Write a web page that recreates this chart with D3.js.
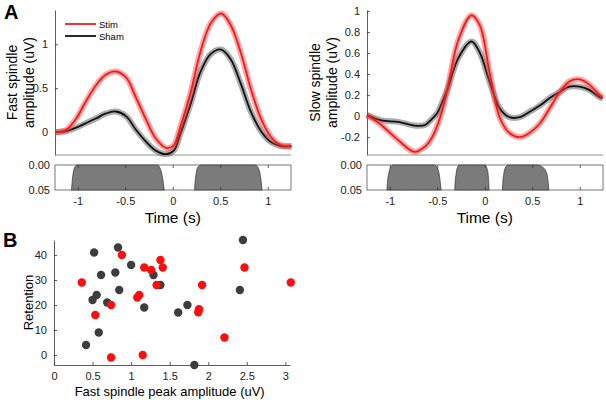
<!DOCTYPE html>
<html>
<head>
<meta charset="utf-8">
<script src="https://cdn.jsdelivr.net/npm/d3@7"></script>
<style>
  body { margin: 0; background: #fff; }
  svg { font-family: "Liberation Sans", Arial, Helvetica, sans-serif; }
  .axis path, .axis line { stroke: #333; stroke-width: 0.8; }
  .axis text { fill: #222; font-size: 11px; }
</style>
</head>
<body>
<div id="chart"></div>
<script>
// ---- panel A, fast spindles
const fastTime = [-1.24, -1.13, -1.02, -0.92, -0.81, -0.71, -0.6, -0.49, -0.39, -0.28, -0.18, -0.07, 0.01,
    0.08, 0.19, 0.29, 0.4, 0.51, 0.61, 0.72, 0.82, 0.93, 1.03, 1.14, 1.25]
const fastStim = [0.0, 0.02, 0.15, 0.34, 0.53, 0.65, 0.69, 0.62, 0.40, 0.14, -0.07, -0.18, -0.15,
    0.06, 0.46, 0.91, 1.24, 1.35, 1.22, 0.89, 0.50, 0.15, -0.05, -0.15, -0.16]
const fastSham = [0.0, 0.01, 0.05, 0.10, 0.155, 0.21, 0.235, 0.18, 0.03, -0.11, -0.21, -0.25, -0.21,
    -0.02, 0.33, 0.68, 0.89, 0.94, 0.83, 0.54, 0.24, 0.01, -0.11, -0.16, -0.16]
// significant clusters (p-value vs time)
const fastClusters = [
    { t: [-1.066, -1.06, -1.05, -1.035, -1.01, -0.5, -0.16, -0.135, -0.115, -0.1, -0.09],
      p: [0.05, 0.035, 0.018, 0.006, 0.0, 0.0, 0.0, 0.006, 0.018, 0.035, 0.05] },
    { t: [0.23, 0.235, 0.245, 0.26, 0.295, 0.6, 0.87, 0.9, 0.92, 0.932, 0.94],
      p: [0.05, 0.035, 0.018, 0.006, 0.0, 0.0, 0.0, 0.006, 0.018, 0.035, 0.05] }
]

// ---- panel A, slow spindles
const slowTime = [-1.24, -1.09, -0.91, -0.74, -0.63, -0.56, -0.5, -0.44, -0.39, -0.28, -0.14, -0.05, 0.05,
    0.16, 0.26, 0.37, 0.47, 0.58, 0.68, 0.79, 0.89, 1.0, 1.1, 1.21, 1.24]
const slowStim = [0.01, -0.085, -0.23, -0.34, -0.29, -0.21, -0.09, 0.08, 0.27, 0.72, 0.96, 0.86, 0.42,
    -0.02, -0.16, -0.20, -0.16, -0.07, 0.07, 0.23, 0.33, 0.35, 0.30, 0.20, 0.17]
const slowSham = [0.01, -0.04, -0.055, -0.09, -0.085, -0.03, 0.03, 0.15, 0.26, 0.55, 0.71, 0.60, 0.33,
    0.07, -0.01, -0.01, 0.04, 0.10, 0.17, 0.23, 0.28, 0.28, 0.25, 0.18, 0.17]
const slowClusters = [
    { t: [-1.03, -1.025, -1.012, -0.995, -0.965, -0.75, -0.53, -0.5, -0.48, -0.468, -0.46],
      p: [0.05, 0.035, 0.018, 0.006, 0.0, 0.0, 0.0, 0.006, 0.018, 0.035, 0.05] },
    { t: [-0.316, -0.312, -0.302, -0.29, -0.27, -0.13, 0.0, 0.022, 0.035, 0.042, 0.045],
      p: [0.05, 0.035, 0.018, 0.006, 0.0, 0.0, 0.0, 0.006, 0.018, 0.035, 0.05] },
    { t: [0.186, 0.19, 0.2, 0.215, 0.245, 0.45, 0.55, 0.62, 0.655, 0.668, 0.675],
      p: [0.05, 0.035, 0.018, 0.006, 0.0, 0.0, 0.0, 0.006, 0.018, 0.035, 0.05] }
]

// ---- panel B, retention vs fast spindle peak amplitude
const shamAmp = [0.52, 0.83, 1.0, 0.61, 0.795, 1.29, 1.38, 0.846, 0.553, 0.50, 0.69, 1.17, 0.58, 0.415,
    2.45, 2.41, 1.73, 1.61, 1.82]
const shamRet = [41, 43, 36, 32, 33, 32, 28, 26, 24, 22, 21, 19, 9, 4,
    46, 26, 20, 17, -4]
const stimAmp = [0.88, 0.36, 1.17, 1.26, 1.38, 1.41, 1.33, 1.105, 1.08, 0.74, 0.535, 0.74, 1.15,
    1.92, 2.47, 3.07, 1.88, 1.87, 2.21]
const stimRet = [40, 29, 35, 34, 38, 35, 28, 24, 23, 20, 16, -1, 0,
    28, 35, 29, 18.3, 17.1, 7]

const RED = "#f21b1b"
const RED_BAND = "rgba(255,60,60,0.45)"
const BLACK = "#111"
const BLACK_BAND = "rgba(90,90,90,0.5)"

const svg = d3.select("#chart").append("svg")
    .attr("width", 606)
    .attr("height", 400)

const timeTicks = [-1, -0.5, 0, 0.5, 1]
const fmt = d => String(d)

function curvePanel(opts) {
    const x = d3.scaleLinear().domain([-1.24, 1.245]).range([opts.left, opts.right])
    const y = d3.scaleLinear().domain(opts.yDomain).range([155, 10])

    // y axis, ticks pointing inward
    svg.append("g").attr("class", "axis")
        .attr("transform", `translate(${opts.left},0)`)
        .call(d3.axisLeft(y).tickValues(opts.yTicks).tickFormat(fmt).tickSize(-3).tickSizeOuter(0).tickPadding(7))
    // bottom line
    svg.append("line")
        .attr("x1", opts.left).attr("x2", opts.right)
        .attr("y1", 155).attr("y2", 155)
        .attr("stroke", "#777").attr("stroke-width", 0.8)

    const line = (vals) => d3.line()
        .x((d, i) => x(opts.time[i]))
        .y(d => y(d))
        .curve(d3.curveCatmullRom.alpha(0.5))(vals)

    const series = [
        { vals: opts.sham, color: BLACK, band: BLACK_BAND },
        { vals: opts.stim, color: RED, band: RED_BAND }
    ]
    series.forEach(s => {
        svg.append("path").attr("d", line(s.vals))
            .attr("fill", "none").attr("stroke", s.band).attr("stroke-width", 6)
            .attr("stroke-linejoin", "round")
        svg.append("path").attr("d", line(s.vals))
            .attr("fill", "none").attr("stroke", s.color).attr("stroke-width", 1.8)
    })

    // significance strip
    const py = d3.scaleLinear().domain([0, 0.05]).range([165, 190])
    svg.append("rect")
        .attr("x", opts.left).attr("y", 165)
        .attr("width", opts.right - opts.left).attr("height", 25)
        .attr("fill", "none").attr("stroke", "#555").attr("stroke-width", 0.8)

    const area = d3.area()
        .x(d => x(d[0]))
        .y0(py(0.05))
        .y1(d => py(d[1]))
        .curve(d3.curveMonotoneX)
    opts.clusters.forEach(c => {
        const pts = c.t.map((t, i) => [t, c.p[i]])
        svg.append("path").attr("d", area(pts))
            .attr("fill", "#7b7b7b").attr("stroke", "#333").attr("stroke-width", 0.7)
    })

    svg.append("g").attr("class", "axis")
        .attr("transform", "translate(0,190)")
        .call(d3.axisBottom(x).tickValues(timeTicks).tickFormat(fmt).tickSize(-3).tickSizeOuter(0).tickPadding(7))
        .call(g => g.select(".domain").remove())
    svg.append("g").attr("class", "axis")
        .attr("transform", "translate(0,165)")
        .call(d3.axisTop(x).tickValues(timeTicks).tickFormat("").tickSize(-3).tickSizeOuter(0))
        .call(g => g.select(".domain").remove())
    svg.append("g").attr("class", "axis")
        .attr("transform", `translate(${opts.left},0)`)
        .call(d3.axisLeft(py).tickValues([0, 0.05]).tickFormat(d3.format(".2f")).tickSize(0).tickPadding(5))
        .call(g => g.select(".domain").remove())

    svg.append("text")
        .attr("x", (x(0))).attr("y", 223)
        .attr("text-anchor", "middle")
        .style("font-size", "15.5px")
        .text("Time (s)")

    const label = svg.append("text")
        .attr("transform", `translate(${opts.labelX},${(10 + 155) / 2}) rotate(-90)`)
        .attr("text-anchor", "middle")
        .style("font-size", "14px")
    label.append("tspan").attr("x", 0).attr("dy", 0).text(opts.label[0])
    label.append("tspan").attr("x", 0).attr("dy", 17).text(opts.label[1])
}

curvePanel({
    left: 55, right: 291,
    yDomain: [-0.26, 1.39], yTicks: [0, 0.5, 1],
    time: fastTime, stim: fastStim, sham: fastSham,
    clusters: fastClusters,
    labelX: 17, label: ["Fast spindle", "amplitude (uV)"]
})

curvePanel({
    left: 367, right: 603,
    yDomain: [-0.37, 1.01], yTicks: [-0.2, 0, 0.2, 0.4, 0.6, 0.8, 1],
    time: slowTime, stim: slowStim, sham: slowSham,
    clusters: slowClusters,
    labelX: 320, label: ["Slow spindle", "amplitude (uV)"]
})

// legend
const legend = [["Stim", RED, 24], ["Sham", BLACK, 36]]
legend.forEach(([name, color, ly]) => {
    svg.append("line")
        .attr("x1", 65).attr("x2", 96).attr("y1", ly).attr("y2", ly)
        .attr("stroke", color).attr("stroke-width", 1.8)
    svg.append("text")
        .attr("x", 99).attr("y", ly + 3.5)
        .style("font-size", "9.5px")
        .text(name)
})

// ---- panel B
const sx = d3.scaleLinear().domain([0, 3.06]).range([54, 290])
const sy = d3.scaleLinear().domain([-4, 46]).range([365, 240])

svg.append("g").attr("class", "axis")
    .attr("transform", "translate(0,365)")
    .call(d3.axisBottom(sx).tickValues([0, 0.5, 1, 1.5, 2, 2.5, 3]).tickFormat(fmt).tickSize(-3).tickSizeOuter(0).tickPadding(7))
svg.append("g").attr("class", "axis")
    .attr("transform", "translate(54,0)")
    .call(d3.axisLeft(sy).tickValues([0, 10, 20, 30, 40]).tickFormat(fmt).tickSize(-3).tickSizeOuter(0).tickPadding(7))

svg.append("g").selectAll("circle")
    .data(shamAmp.map((a, i) => [a, shamRet[i]]))
    .join("circle")
    .attr("cx", d => sx(d[0])).attr("cy", d => sy(d[1]))
    .attr("r", 4.2).attr("fill", "#3d3d3d")

svg.append("g").selectAll("circle")
    .data(stimAmp.map((a, i) => [a, stimRet[i]]))
    .join("circle")
    .attr("cx", d => sx(d[0])).attr("cy", d => sy(d[1]))
    .attr("r", 4.2).attr("fill", "#ff0d0d")

svg.append("text")
    .attr("x", sx(1.5)).attr("y", 396)
    .attr("text-anchor", "middle")
    .style("font-size", "13px")
    .text("Fast spindle peak amplitude (uV)")

svg.append("text")
    .attr("transform", `translate(33,${(240 + 365) / 2}) rotate(-90)`)
    .attr("text-anchor", "middle")
    .style("font-size", "13px")
    .text("Retention")

// panel letters
svg.append("text").attr("x", 4).attr("y", 19)
    .style("font-size", "20px").style("font-weight", "bold").text("A")
svg.append("text").attr("x", 3).attr("y", 247)
    .style("font-size", "20px").style("font-weight", "bold").text("B")
</script>
</body>
</html>
